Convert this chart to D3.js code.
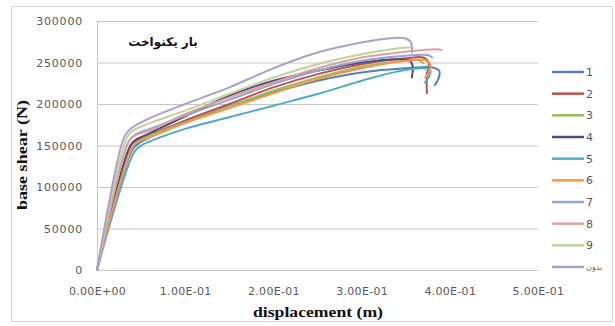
<!DOCTYPE html>
<html>
<head>
<meta charset="utf-8">
<script src="https://cdn.jsdelivr.net/npm/d3@7/dist/d3.min.js"></script>
<style>
  html, body { margin: 0; padding: 0; background: #fff; }
  svg { display: block; }
</style>
</head>
<body>
<svg id="chart" width="615" height="326"></svg>
<script>
// Pushover curves: displacement (m) vs base shear (N)
const seriesNames = ["1", "2", "3", "4", "5", "6", "7", "8", "9", "بدون"];
const seriesColors = ["#4F81BD", "#C0504D", "#9BBB59", "#564A7C", "#4BACC6",
                      "#F79646", "#8CA8D4", "#E0A09E", "#BDD49A", "#A6A2CE"];

const s1 = [[0,0],[0.040,145000],[0.048,153000],[0.06,160000],[0.10,180000],[0.15,198000],[0.20,214000],[0.25,228000],[0.30,238000],[0.35,243000],[0.38,244000],[0.388,240000],[0.387,230000],[0.383,223000]];
const s2 = [[0,0],[0.038,150000],[0.045,158000],[0.06,163000],[0.10,180000],[0.15,200000],[0.20,220000],[0.25,236000],[0.30,248000],[0.35,255000],[0.370,256000],[0.376,250000],[0.374,235000],[0.374,213000]];
const s3 = [[0,0],[0.040,148000],[0.047,156000],[0.06,162000],[0.10,178000],[0.15,197000],[0.20,216000],[0.25,232000],[0.30,245000],[0.35,252000],[0.365,253000],[0.370,249000]];
const s4 = [[0,0],[0.038,150000],[0.045,157000],[0.06,165000],[0.10,185000],[0.15,210000],[0.20,228000],[0.25,240000],[0.30,250000],[0.34,254000],[0.355,252000],[0.358,245000],[0.357,232000]];
const s5 = [[0,0],[0.042,142000],[0.05,150000],[0.06,155000],[0.10,170000],[0.15,184000],[0.20,198000],[0.25,212000],[0.30,228000],[0.34,239000],[0.37,243000],[0.378,240000],[0.376,232000],[0.372,226000]];
const s6 = [[0,0],[0.040,148000],[0.047,155000],[0.06,160000],[0.10,177000],[0.15,195000],[0.20,213000],[0.25,230000],[0.30,243000],[0.35,252000],[0.372,253000],[0.378,247000],[0.376,237000],[0.372,232000]];
const s7 = [[0,0],[0.036,155000],[0.043,163000],[0.06,170000],[0.10,186000],[0.15,205000],[0.20,224000],[0.25,240000],[0.30,252000],[0.35,258000],[0.375,259000],[0.38,256000]];
const s8 = [[0,0],[0.036,155000],[0.043,162000],[0.06,168000],[0.10,188000],[0.15,208000],[0.20,226000],[0.25,243000],[0.30,256000],[0.35,263000],[0.385,266000],[0.39,265000]];
const s9 = [[0,0],[0.034,160000],[0.041,168000],[0.06,177000],[0.10,192000],[0.15,212000],[0.20,232000],[0.25,248000],[0.30,260000],[0.34,267000],[0.355,268000]];
const s10 = [[0,0],[0.030,158000],[0.036,168000],[0.045,175000],[0.06,183000],[0.10,200000],[0.15,220000],[0.20,243000],[0.25,262000],[0.30,274000],[0.33,279000],[0.350,279000],[0.356,274000],[0.357,262000]];
const seriesValues = [s1, s2, s3, s4, s5, s6, s7, s8, s9, s10];

const xTicks = [0, 0.1, 0.2, 0.3, 0.4, 0.5];
const yTicks = [0, 50000, 100000, 150000, 200000, 250000, 300000];

const chartTitle = "بار یکنواخت";
const xTitle = "displacement (m)";
const yTitle = "base shear (N)";

const svg = d3.select("#chart");
const plot = { left: 97, right: 538, top: 21, bottom: 270 };

const x = d3.scaleLinear().domain([0, 0.5]).range([plot.left, plot.right]);
const y = d3.scaleLinear().domain([0, 300000]).range([plot.bottom, plot.top]);

function fmtE(v) {
  const parts = v.toExponential(2).split("e");
  const n = +parts[1];
  return parts[0] + "E" + (n < 0 ? "-" : "+") + String(Math.abs(n)).padStart(2, "0");
}

// outer frame
svg.append("rect")
  .attr("x", 11.5).attr("y", 6.5).attr("width", 601).attr("height", 315)
  .attr("fill", "#fff").attr("stroke", "#d4d4d4").attr("stroke-width", 1);

// horizontal gridlines + y labels
const yAxis = svg.append("g")
  .attr("transform", `translate(${plot.left},0)`)
  .call(d3.axisLeft(y).tickValues(yTicks).tickSize(-(plot.right - plot.left)).tickPadding(14).tickFormat(d3.format("d")));
yAxis.select(".domain").remove();
yAxis.selectAll(".tick line").attr("stroke", "#c6c6c6").attr("stroke-width", 1);
yAxis.selectAll(".tick text")
  .attr("fill", "#595959").attr("font-family", "DejaVu Sans, sans-serif")
  .attr("font-size", 11).attr("letter-spacing", 0.8);

// vertical axis line
svg.append("line")
  .attr("x1", plot.left + 0.5).attr("x2", plot.left + 0.5)
  .attr("y1", plot.top).attr("y2", plot.bottom)
  .attr("stroke", "#c6c6c6");

// x labels
const xAxis = svg.append("g")
  .attr("transform", `translate(0,${plot.bottom})`)
  .call(d3.axisBottom(x).tickValues(xTicks).tickSize(0).tickPadding(17).tickFormat(fmtE));
xAxis.select(".domain").remove();
xAxis.selectAll(".tick text")
  .attr("fill", "#595959").attr("font-family", "DejaVu Sans, sans-serif")
  .attr("font-size", 11).attr("letter-spacing", 0.3);

// curves
const line = d3.line()
  .x(d => x(d[0])).y(d => y(d[1]))
  .curve(d3.curveCatmullRom.alpha(0.5));

svg.append("g").selectAll("path")
  .data(seriesValues)
  .join("path")
  .attr("d", line)
  .attr("fill", "none")
  .attr("stroke", (d, i) => seriesColors[i])
  .attr("stroke-width", 2)
  .attr("stroke-linejoin", "round")
  .attr("stroke-linecap", "round");

// legend
const legend = svg.append("g");
const legendY = d3.scaleLinear().domain([0, 9]).range([72, 267]);
seriesNames.forEach((name, i) => {
  const ly = legendY(i);
  legend.append("line")
    .attr("x1", 552).attr("x2", 584).attr("y1", ly).attr("y2", ly)
    .attr("stroke", seriesColors[i]).attr("stroke-width", 2.5);
  legend.append("text")
    .attr("x", 586).attr("y", ly).attr("dy", "0.36em")
    .attr("fill", "#595959")
    .attr("font-family", "DejaVu Sans, sans-serif")
    .attr("font-size", i === 9 ? 8 : 11)
    .text(name);
});

// titles
svg.append("text")
  .attr("x", 163).attr("y", 46)
  .attr("text-anchor", "middle")
  .attr("font-family", "DejaVu Sans, sans-serif")
  .attr("font-weight", "bold").attr("font-size", 12)
  .attr("fill", "#111")
  .text(chartTitle);

svg.append("text")
  .attr("x", 318).attr("y", 317)
  .attr("text-anchor", "middle")
  .attr("font-family", "Liberation Serif, serif")
  .attr("font-weight", "bold").attr("font-size", 15)
  .attr("textLength", 130).attr("lengthAdjust", "spacingAndGlyphs")
  .attr("fill", "#111")
  .text(xTitle);

svg.append("text")
  .attr("transform", "translate(27,155) rotate(-90)")
  .attr("text-anchor", "middle")
  .attr("font-family", "Liberation Serif, serif")
  .attr("font-weight", "bold").attr("font-size", 14)
  .attr("textLength", 110).attr("lengthAdjust", "spacingAndGlyphs")
  .attr("fill", "#111")
  .text(yTitle);
</script>
</body>
</html>
